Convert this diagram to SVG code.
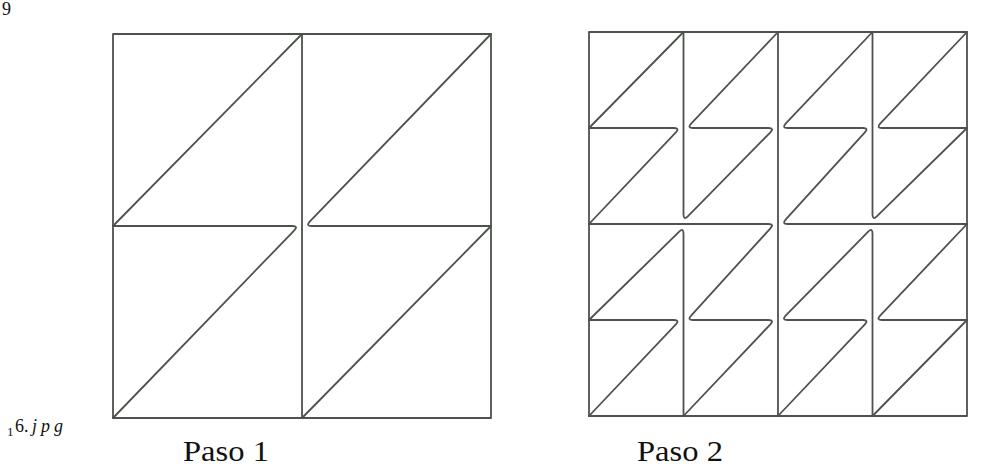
<svg xmlns="http://www.w3.org/2000/svg" width="982" height="473" viewBox="0 0 982 473">
<style>
  .ln { fill: none; stroke: #4d524c; stroke-width: 1.8; stroke-linejoin: round; stroke-linecap: round; }
  .lbl { fill: #111111; }
</style>
<rect x="0" y="0" width="982" height="473" fill="#ffffff"/>
<g id="paso1">
  <rect class="ln" x="113" y="34" width="378" height="384"/>
  <g id="p1-connectors">
    <path class="ln" d="M302,34 L302,418"/>
    <path class="ln" d="M113,226 L302,34"/>
    <path class="ln" d="M302,418 L491,226"/>
    <path class="ln" d="M113,226 L292.5,226 Q298.5,226 294.33,230.31 L113,418"/>
    <path class="ln" d="M491,34 L309.67,221.69 Q305.5,226 311.5,226 L491,226"/>
  </g>
</g>
<g id="paso2">
  <rect class="ln" x="589" y="32" width="378" height="384"/>
  <g id="p2-connectors">
    <path class="ln" d="M589,128 L683.5,32"/>
    <path class="ln" d="M589,128 L674,128 Q680,128 675.87,132.35 L589,224"/>
    <path class="ln" d="M778,32 L691.13,123.65 Q687,128 693,128 L768.5,128 Q774.5,128 770.37,132.35 L687.79,216.3 Q683.5,220.5 683.5,214.5 L683.5,32"/>
    <path class="ln" d="M872.5,32 L785.63,123.65 Q781.5,128 787.5,128 L863,128 Q869,128 864.87,132.35 L785.63,219.65 Q781.5,224 787.5,224 L967,224"/>
    <path class="ln" d="M967,32 L880.13,123.65 Q876,128 882,128 L967,128"/>
    <path class="ln" d="M872.5,32 L872.5,214.5 Q872.5,220.5 876.79,216.3 L967,128"/>
    <path class="ln" d="M589,224 L768.5,224 Q774.5,224 770.37,228.35 L691.13,315.65 Q687,320 693,320 L768.5,320 Q774.5,320 770.37,324.35 L683.5,416"/>
    <path class="ln" d="M683.5,416 L683.5,233.5 Q683.5,227.5 679.21,231.7 L589,320"/>
    <path class="ln" d="M589,320 L674,320 Q680,320 675.87,324.35 L589,416"/>
    <path class="ln" d="M872.5,416 L872.5,233.5 Q872.5,227.5 868.21,231.7 L785.63,315.65 Q781.5,320 787.5,320 L863,320 Q869,320 864.87,324.35 L778,416"/>
    <path class="ln" d="M967,224 L880.13,315.65 Q876,320 882,320 L967,320"/>
    <path class="ln" d="M872.5,416 L967,320"/>
    <path class="ln" d="M778,32 L778,416"/>
  </g>
</g>
<g id="labels">
  <text class="lbl" font-family="Liberation Serif, DejaVu Serif, serif" x="2" y="15" font-size="18">9</text>
  <text class="lbl" font-family="Liberation Serif, DejaVu Serif, serif" x="7" y="436" font-size="13">1</text>
  <text class="lbl" font-family="Liberation Serif, DejaVu Serif, serif" x="15" y="432" font-size="18">6.</text>
  <text class="lbl" font-family="Liberation Serif, DejaVu Serif, serif" font-size="18" font-style="italic"><tspan x="32" y="432">j</tspan><tspan x="41" y="432">p</tspan><tspan x="54" y="432">g</tspan></text>
  <text class="lbl" font-family="Liberation Serif, DejaVu Serif, serif" x="183" y="461" font-size="29" textLength="86" lengthAdjust="spacingAndGlyphs">Paso 1</text>
  <text class="lbl" font-family="Liberation Serif, DejaVu Serif, serif" x="637" y="461" font-size="29" textLength="86" lengthAdjust="spacingAndGlyphs">Paso 2</text>
</g>
</svg>
